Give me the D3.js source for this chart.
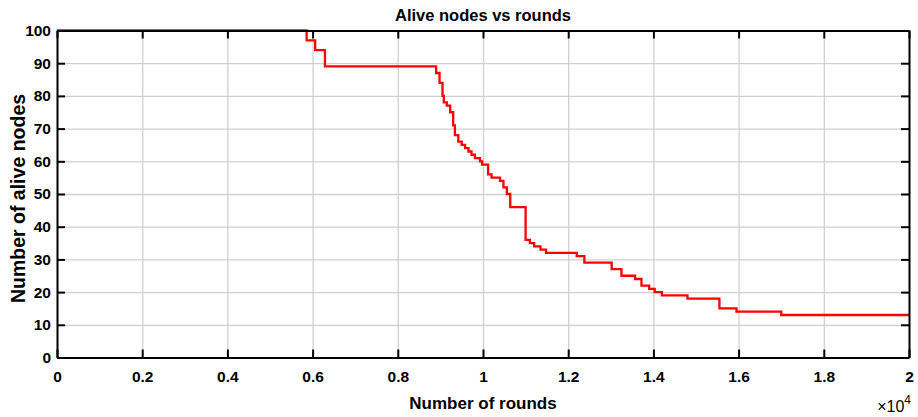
<!DOCTYPE html>
<html>
<head>
<meta charset="utf-8">
<script src="https://cdn.jsdelivr.net/npm/d3@7"></script>
<style>
  body { margin: 0; background: #fff; }
  svg { display: block; font-family: "Liberation Sans", Arial, sans-serif; }
  .axis text { font-size: 15.5px; font-weight: bold; fill: #000; }
  .axis path, .axis line { stroke: #000; stroke-width: 2; }
  .grid line { stroke: #d0d0d0; stroke-width: 1.3; }
  .grid path { display: none; }
</style>
</head>
<body>
<div id="chart"></div>
<script>
// rounds at which the number of alive nodes changes, and the new count
const rounds = [0, 5860, 6060, 6290, 8900, 8980, 9050, 9080, 9150, 9230, 9300, 9340, 9420, 9500,
    9580, 9660, 9730, 9810, 9930, 9980, 10120, 10200, 10400, 10480, 10560, 10640, 11000, 11100,
    11200, 11350, 11480, 12200, 12380, 13020, 13250, 13570, 13720, 13900, 14030, 14200, 14800,
    15550, 15950, 17000, 20000];
const alive = [100, 97, 94, 89, 87, 84, 80, 78, 77, 75, 71, 68, 66, 65,
    64, 63, 62, 61, 60, 59, 56, 55, 54, 52, 50, 46, 36, 35,
    34, 33, 32, 31, 29, 27, 25, 24, 22, 21, 20, 19, 18,
    15, 14, 13, 13];

const xTicks = [0, 2000, 4000, 6000, 8000, 10000, 12000, 14000, 16000, 18000, 20000];
const yTicks = [0, 10, 20, 30, 40, 50, 60, 70, 80, 90, 100];

const width = 918, height = 417;
const margin = {top: 30.5, right: 9, bottom: 59.5, left: 57};

const svg = d3.select("#chart")
    .append("svg")
    .attr("width", width)
    .attr("height", height);

const x = d3.scaleLinear()
    .domain([0, 20000])
    .range([margin.left, width - margin.right]);
const y = d3.scaleLinear()
    .domain([0, 100])
    .range([height - margin.bottom, margin.top]);

const data = rounds.map((r, i) => ({r: r, n: alive[i]}));

// grid
svg.append("g")
    .attr("class", "grid")
    .attr("transform", "translate(0," + (height - margin.bottom) + ")")
    .call(d3.axisBottom(x).tickValues(xTicks).tickSize(-(height - margin.top - margin.bottom)).tickFormat(""));
svg.append("g")
    .attr("class", "grid")
    .attr("transform", "translate(" + margin.left + ",0)")
    .call(d3.axisLeft(y).tickValues(yTicks).tickSize(-(width - margin.left - margin.right)).tickFormat(""));

// the line
const line = d3.line()
    .x(d => x(d.r))
    .y(d => y(d.n))
    .curve(d3.curveStepAfter);

svg.append("path")
    .datum(data)
    .attr("fill", "none")
    .attr("stroke", "#ff0000")
    .attr("stroke-width", 2.3)
    .attr("d", line);

// box axes with inward ticks
svg.append("g")
    .attr("class", "axis")
    .attr("transform", "translate(0," + (height - margin.bottom) + ")")
    .call(d3.axisBottom(x).tickValues(xTicks).tickSizeInner(-8).tickSizeOuter(0).tickPadding(13)
        .tickFormat(d => d3.format("~g")(d / 10000)));
svg.append("g")
    .attr("class", "axis")
    .attr("transform", "translate(0," + margin.top + ")")
    .call(d3.axisTop(x).tickValues(xTicks).tickSizeInner(-8).tickSizeOuter(0).tickFormat(""));
svg.append("g")
    .attr("class", "axis")
    .attr("transform", "translate(" + margin.left + ",0)")
    .call(d3.axisLeft(y).tickValues(yTicks).tickSizeInner(-8).tickSizeOuter(0).tickPadding(6));
svg.append("g")
    .attr("class", "axis")
    .attr("transform", "translate(" + (width - margin.right) + ",0)")
    .call(d3.axisRight(y).tickValues(yTicks).tickSizeInner(-8).tickSizeOuter(0).tickFormat(""));

// texts
const midX = (margin.left + width - margin.right) / 2;
svg.append("text")
    .attr("x", midX)
    .attr("y", 20.5)
    .attr("text-anchor", "middle")
    .style("font-size", "16.5px")
    .style("font-weight", "bold")
    .text("Alive nodes vs rounds");

svg.append("text")
    .attr("x", midX)
    .attr("y", 409)
    .attr("text-anchor", "middle")
    .style("font-size", "17px")
    .style("font-weight", "bold")
    .text("Number of rounds");

svg.append("text")
    .attr("transform", "translate(25,198.5) rotate(-90)")
    .attr("text-anchor", "middle")
    .style("font-size", "19.5px")
    .style("font-weight", "bold")
    .text("Number of alive nodes");

const exp = svg.append("text")
    .attr("x", width - 7)
    .attr("y", 412)
    .attr("text-anchor", "end")
    .style("font-size", "16px");
exp.append("tspan").text("\u00d710");
exp.append("tspan").attr("dy", -8).style("font-size", "12px").text("4");
</script>
</body>
</html>
